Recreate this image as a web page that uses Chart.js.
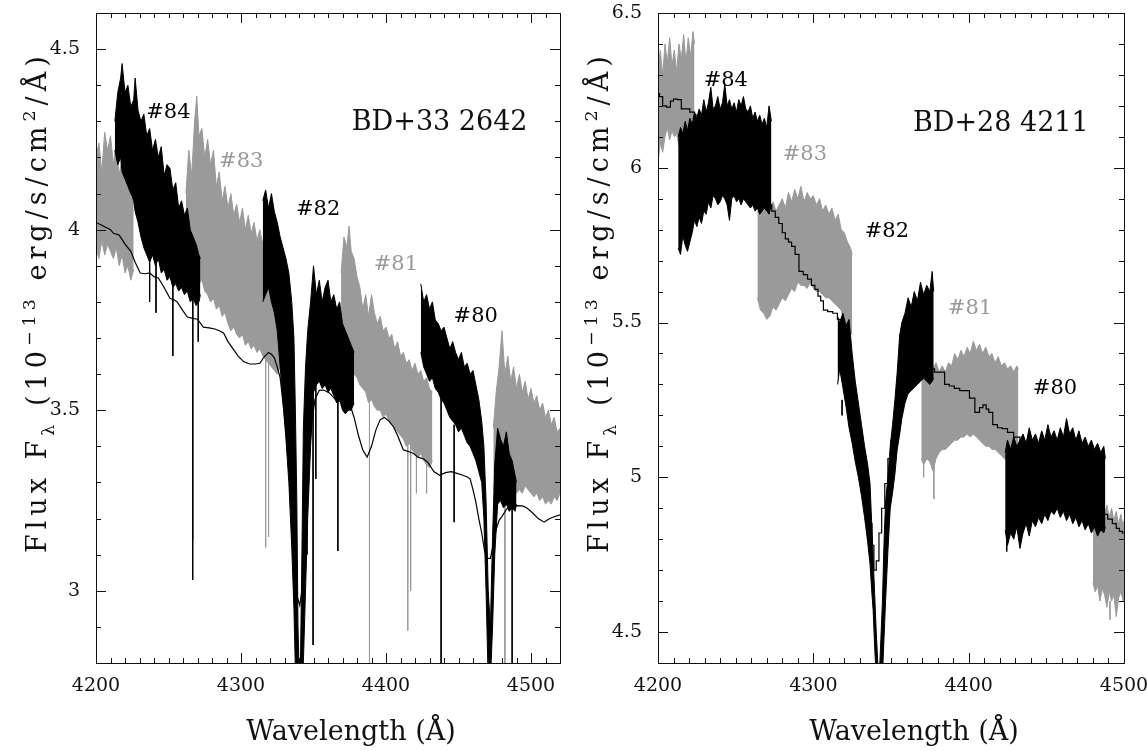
<!DOCTYPE html>
<html>
<head>
<meta charset="utf-8">
<script src="https://cdn.jsdelivr.net/npm/chart.js@4/dist/chart.umd.min.js"></script>
<style>
  html, body { margin: 0; padding: 0; background: #fff; width: 1147px; height: 751px; overflow: hidden; }
  canvas { position: absolute; top: 0; }
  #left { left: 0; }
  #right { left: 575px; }
</style>
</head>
<body>
<canvas id="left" width="575" height="751"></canvas>
<canvas id="right" width="590" height="751"></canvas>
<script>
document.addEventListener('DOMContentLoaded', function () {

	'use strict';

	// ---------- BD+33 2642 (left panel) ----------
	const leftXTicks = [4200, 4300, 4400, 4500];
	const leftYTicks = [3, 3.5, 4, 4.5];

	// model spectrum (thin black line)
	const leftModelLam = [4200,4205,4210,4212,4216,4220,4224,4227,4230.5,4234,4237,4240,4243,4247,4251,4254,4256,4260,4263,4266,4270,4274,4278,4282,4285,4288,4291,4295,4298,4302,4306,4310,4313,4316,4319,4321,4323,4325,4327,4329,4331,4333,4335,4336.5,4337.5,4339,4340.5,4342,4343.5,4345,4347,4349,4351,4354,4357,4361,4365,4370,4375,4378,4381,4384,4387,4390,4393,4396,4399,4402,4405,4408,4412,4416,4419,4422,4426,4429,4433,4437,4441,4445,4449,4453,4456,4458,4460,4462,4464,4466,4468,4470,4472,4474,4476,4478,4480,4483,4485,4490,4494,4497,4501,4505,4509,4511,4513,4516,4520];
	const leftModelFlux = [4.02,4.01,4.00,3.99,3.985,3.96,3.94,3.91,3.88,3.878,3.88,3.87,3.866,3.84,3.81,3.805,3.80,3.775,3.758,3.755,3.752,3.73,3.728,3.725,3.72,3.714,3.69,3.667,3.65,3.634,3.628,3.628,3.63,3.648,3.66,3.655,3.645,3.62,3.59,3.52,3.445,3.38,3.28,3.15,3.05,2.98,2.96,3.0,3.1,3.25,3.38,3.47,3.53,3.555,3.556,3.548,3.53,3.52,3.518,3.48,3.43,3.39,3.37,3.40,3.445,3.474,3.48,3.47,3.455,3.43,3.39,3.385,3.38,3.37,3.365,3.355,3.33,3.32,3.327,3.33,3.325,3.32,3.315,3.31,3.28,3.245,3.20,3.16,3.11,3.09,3.09,3.13,3.17,3.195,3.206,3.225,3.234,3.236,3.235,3.23,3.216,3.20,3.19,3.195,3.20,3.205,3.21];

	// observed exposures: upper / lower edge of the noise
	const l85Lam = [4200,4202,4204,4206,4208,4210,4212,4214,4216,4218,4220,4222,4224,4226];
	const l85Hi  = [4.20,4.24,4.16,4.27,4.22,4.26,4.18,4.24,4.15,4.20,4.12,4.17,4.08,4.10];
	const l85Lo  = [3.95,3.92,3.97,3.93,3.96,3.94,3.92,3.95,3.90,3.93,3.88,3.90,3.86,3.89];

	const l84Lam = [4213,4215,4217,4218,4220,4222,4224,4226,4227,4229,4231,4233,4235,4237,4239,4241,4243,4245,4247,4249,4251,4253,4255,4257,4259,4261,4263,4265,4267,4269,4271,4272];
	const l84Hi  = [4.30,4.38,4.42,4.46,4.38,4.40,4.34,4.36,4.42,4.33,4.30,4.32,4.26,4.28,4.22,4.25,4.20,4.23,4.15,4.18,4.17,4.11,4.13,4.06,4.08,4.04,4.06,4.00,3.98,3.96,3.93,3.92];
	const l84Lo  = [4.22,4.18,4.20,4.16,4.14,4.12,4.10,4.08,4.05,4.02,3.98,3.95,3.93,3.91,3.93,3.90,3.92,3.88,3.89,3.86,3.87,3.84,3.85,3.83,3.84,3.82,3.83,3.80,3.81,3.79,3.80,3.82];

	const l83Lam = [4262,4264,4266,4268,4269.5,4271,4273,4275,4277,4279,4281,4283,4285,4287,4289,4291,4293,4295,4297,4299,4301,4303,4305,4307,4309,4311,4313,4315,4317,4319,4321,4323,4325,4327];
	const l83Hi  = [4.10,4.22,4.15,4.30,4.37,4.26,4.28,4.20,4.25,4.18,4.22,4.12,4.16,4.08,4.12,4.06,4.10,4.04,4.07,4.02,4.06,4.00,4.04,3.99,4.02,3.97,4.00,3.96,3.99,3.94,3.96,3.92,3.90,3.86];
	const l83Lo  = [3.93,3.90,3.91,3.87,3.88,3.85,3.86,3.83,3.82,3.80,3.81,3.78,3.79,3.76,3.77,3.74,3.72,3.73,3.71,3.70,3.71,3.68,3.69,3.67,3.68,3.66,3.67,3.65,3.64,3.63,3.62,3.61,3.60,3.62];

	const l82Lam = [4315,4317,4319,4321,4323,4325,4327,4329,4331,4333,4335,4336.5,4337.5,4338.5,4339.3,4340.2,4341,4342,4343,4344.5,4346,4348,4350,4352,4354,4356,4358,4360,4362,4364,4366,4368,4370,4372,4374,4376,4378];
	const l82Hi  = [4.08,4.11,4.06,4.10,4.05,4.02,3.98,3.95,3.92,3.88,3.80,3.70,3.50,3.25,2.90,2.76,2.80,3.10,3.45,3.62,3.72,3.80,3.90,3.82,3.86,3.80,3.84,3.86,3.80,3.82,3.78,3.80,3.74,3.72,3.70,3.68,3.66];
	const l82Lo  = [3.80,3.82,3.84,3.80,3.77,3.72,3.62,3.52,3.42,3.30,3.12,2.95,2.78,2.75,2.75,2.72,2.72,2.75,2.80,3.00,3.20,3.40,3.55,3.57,3.58,3.56,3.57,3.55,3.56,3.54,3.52,3.53,3.50,3.49,3.50,3.50,3.52];

	const l81Lam = [4369,4371,4373,4374.5,4376,4378,4380,4382,4384,4386,4388,4390,4392,4394,4396,4398,4400,4402,4404,4406,4408,4410,4412,4414,4416,4418,4420,4422,4424,4426,4428,4430,4432];
	const l81Hi  = [3.88,3.98,3.95,4.01,3.94,3.92,3.87,3.84,3.78,3.82,3.76,3.82,3.77,3.74,3.76,3.72,3.73,3.70,3.71,3.67,3.69,3.65,3.66,3.63,3.64,3.61,3.63,3.60,3.61,3.58,3.59,3.56,3.55];
	const l81Lo  = [3.66,3.62,3.60,3.61,3.58,3.60,3.59,3.57,3.56,3.55,3.52,3.53,3.51,3.50,3.50,3.48,3.49,3.47,3.46,3.45,3.44,3.43,3.42,3.40,3.41,3.39,3.38,3.37,3.38,3.36,3.35,3.34,3.36];

	const l80Lam = [4424,4426,4428,4430,4432,4434,4436,4438,4440,4442,4444,4446,4448,4450,4452,4454,4456,4458,4460,4462,4464,4466,4467.5,4469,4470.5,4472,4473.5,4475,4477,4479,4481,4483,4485,4487,4489,4490];
	const l80Hi  = [3.85,3.80,3.82,3.78,3.80,3.75,3.74,3.72,3.73,3.70,3.67,3.69,3.66,3.64,3.66,3.62,3.63,3.60,3.61,3.57,3.53,3.47,3.40,3.25,3.00,2.90,3.15,3.35,3.45,3.42,3.40,3.44,3.38,3.36,3.32,3.30];
	const l80Lo  = [3.66,3.62,3.60,3.58,3.59,3.56,3.55,3.53,3.52,3.50,3.48,3.47,3.46,3.44,3.45,3.43,3.41,3.40,3.38,3.36,3.33,3.30,3.20,3.00,2.75,2.75,2.90,3.10,3.24,3.25,3.23,3.24,3.22,3.23,3.22,3.24];

	const l79Lam = [4474,4476,4478,4480,4482,4484,4486,4488,4490,4492,4494,4496,4498,4500,4502,4504,4506,4508,4510,4512,4514,4516,4518,4520];
	const l79Hi  = [3.45,3.55,3.62,3.72,3.60,3.65,3.58,3.62,3.56,3.60,3.55,3.58,3.53,3.56,3.52,3.54,3.50,3.52,3.48,3.50,3.46,3.48,3.44,3.45];
	const l79Lo  = [3.28,3.30,3.29,3.27,3.28,3.27,3.26,3.28,3.27,3.28,3.27,3.29,3.28,3.27,3.26,3.27,3.25,3.26,3.24,3.25,3.24,3.26,3.25,3.27];

	// narrow lines / spikes below the noise
	const leftBlackSpikeLam = [4237,4241.4,4253,4266.7,4270.5,4345.5,4349.7,4351.6,4366.8,4438,4447,4487];
	const leftBlackSpikeTop = [3.92,3.92,3.88,3.82,3.80,3.20,3.60,3.58,3.53,3.55,3.46,3.24];
	const leftBlackSpikeBot = [3.80,3.77,3.65,3.03,3.69,3.10,2.85,3.31,3.11,2.78,3.19,2.78];
	const leftGraySpikeLam = [4266.8,4317,4319,4388.6,4415,4417,4421,4428,4482];
	const leftGraySpikeTop = [3.90,3.64,3.63,3.52,3.41,3.40,3.38,3.36,3.28];
	const leftGraySpikeBot = [3.14,3.12,3.15,2.78,2.89,3.00,3.27,3.27,2.78];

	const leftTagText = ['#84', '#83', '#82', '#81', '#80'];
	const leftTagLam  = [4234.6, 4284.9, 4337.9, 4391.5, 4446.6];
	const leftTagFlux = [4.308, 4.173, 4.040, 3.888, 3.744];

	// ---------- BD+28 4211 (right panel) ----------
	const rightXTicks = [4200, 4300, 4400, 4500];
	const rightYTicks = [4.5, 5, 5.5, 6, 6.5];

	const rightModelLam = [4200,4202,4204,4207,4209,4211,4214,4216,4219,4222,4225,4228,4232,4236,4240,4244,4248,4252,4256,4260,4264,4267,4270,4272,4274.5,4276.5,4279,4281,4283,4285,4287,4289.5,4292,4295,4297.5,4300,4302,4304,4305.5,4307.5,4311,4314,4317,4319,4321,4323,4325,4327,4329,4331,4333,4335,4337,4338.5,4339.5,4341.5,4343,4345,4347,4349,4351,4353,4355,4357,4360,4363,4366,4370,4373,4376,4380,4383,4386,4389,4392.5,4396,4399,4402,4406,4408,4410.5,4412,4414,4417,4420,4423,4427,4431,4435,4440,4444,4448,4452,4456,4460,4464,4468,4472,4476,4480,4482.5,4485,4488,4491,4494,4496,4498,4500];
	const rightModelFlux = [6.24,6.23,6.20,6.196,6.215,6.222,6.22,6.19,6.19,6.18,6.17,6.15,6.13,6.11,6.09,6.07,6.05,6.02,6.00,5.97,5.94,5.92,5.90,5.88,5.86,5.84,5.82,5.79,5.77,5.76,5.746,5.72,5.665,5.655,5.64,5.62,5.607,5.585,5.57,5.54,5.535,5.53,5.51,5.45,5.40,5.33,5.27,5.20,5.14,5.07,5.00,4.93,4.85,4.78,4.70,4.73,4.82,4.90,4.98,5.06,5.12,5.18,5.22,5.26,5.29,5.31,5.33,5.34,5.365,5.35,5.34,5.34,5.30,5.295,5.287,5.28,5.28,5.256,5.21,5.225,5.234,5.22,5.21,5.17,5.16,5.157,5.145,5.13,5.115,5.11,5.11,5.09,5.07,5.05,5.02,4.99,4.96,4.94,4.92,4.90,4.895,4.885,4.88,4.865,4.85,4.835,4.825,4.82];

	const r85Lam = [4200,4201.5,4203,4204.5,4206,4207.5,4209,4210.5,4212,4213.5,4215,4216.5,4218,4219.5,4221,4222.5,4223.5];
	const r85Hi  = [6.32,6.38,6.30,6.40,6.34,6.42,6.33,6.38,6.31,6.40,6.35,6.43,6.34,6.42,6.36,6.44,6.40];
	const r85Lo  = [6.02,6.08,6.05,6.10,6.13,6.09,6.12,6.10,6.11,6.07,6.05,6.06,6.08,6.09,6.12,6.13,6.16];

	const r84Lam = [4213,4214.5,4216,4217.5,4219,4220.5,4222,4223.5,4225,4226.5,4228,4229.5,4231,4232.5,4234,4235.5,4237,4238.5,4240,4241.5,4243,4244.5,4246,4247.5,4249,4250.5,4252,4253.5,4255,4256.5,4258,4259.5,4261,4262.5,4264,4265.5,4267,4268.5,4270,4271.5,4273];
	const r84Hi  = [6.10,6.13,6.11,6.15,6.12,6.16,6.14,6.18,6.16,6.19,6.17,6.22,6.18,6.21,6.26,6.19,6.20,6.23,6.19,6.21,6.27,6.20,6.22,6.19,6.21,6.18,6.22,6.20,6.23,6.19,6.18,6.20,6.16,6.18,6.15,6.17,6.14,6.16,6.13,6.20,6.15];
	const r84Lo  = [5.74,5.72,5.78,5.75,5.73,5.76,5.79,5.83,5.81,5.84,5.82,5.86,5.85,5.89,5.87,5.91,5.90,5.88,5.89,5.91,5.90,5.88,5.83,5.90,5.91,5.89,5.90,5.88,5.90,5.89,5.88,5.87,5.88,5.86,5.87,5.85,5.86,5.87,5.86,5.85,5.88];

	const r83Lam = [4264,4266,4268,4270,4272,4274,4276,4278,4280,4282,4284,4286,4288,4290,4292,4294,4296,4298,4300,4302,4304,4306,4308,4310,4312,4314,4316,4318,4320,4322,4324,4325];
	const r83Hi  = [5.90,5.96,5.88,5.92,5.87,5.89,5.86,5.88,5.90,5.87,5.92,5.89,5.93,5.90,5.94,5.89,5.92,5.90,5.91,5.88,5.90,5.86,5.88,5.85,5.87,5.83,5.85,5.80,5.79,5.76,5.74,5.72];
	const r83Lo  = [5.58,5.54,5.53,5.51,5.52,5.55,5.54,5.56,5.58,5.57,5.59,5.61,5.60,5.63,5.62,5.62,5.61,5.63,5.61,5.60,5.60,5.59,5.58,5.58,5.57,5.56,5.55,5.54,5.50,5.48,5.47,5.46];

	const r82Lam = [4315.6,4317,4319,4321,4323,4325,4327,4329,4331,4333,4335,4336.5,4337.5,4338.5,4339.5,4340.5,4341.5,4342.5,4343.5,4344.5,4345.5,4346.5,4348,4349.5,4351,4352.5,4354,4355.6,4357,4359,4361,4363,4365,4367,4369,4371,4373,4375,4376.5,4377.5];
	const r82Hi  = [5.52,5.50,5.53,5.49,5.51,5.40,5.31,5.24,5.17,5.10,5.04,4.98,4.86,4.74,4.62,4.50,4.40,4.36,4.48,4.60,4.79,4.92,5.00,5.10,5.17,5.25,5.34,5.46,5.50,5.53,5.58,5.55,5.60,5.57,5.63,5.59,5.62,5.60,5.665,5.60];
	const r82Lo  = [5.30,5.35,5.29,5.23,5.16,5.11,5.05,5.00,4.94,4.87,4.79,4.72,4.64,4.57,4.45,4.35,4.33,4.30,4.32,4.36,4.48,4.60,4.76,4.90,4.95,5.01,5.09,5.14,5.19,5.24,5.27,5.28,5.29,5.30,5.31,5.32,5.31,5.30,5.31,5.32];

	const r81Lam = [4369.5,4371,4373,4375,4377,4379,4381,4383,4385,4387,4389,4391,4393,4395,4397,4399,4401,4403,4405,4407,4409,4411,4413,4415,4417,4419,4421,4423,4425,4427,4429,4431,4432];
	const r81Hi  = [5.38,5.42,5.36,5.38,5.35,5.37,5.34,5.36,5.34,5.37,5.36,5.40,5.38,5.41,5.39,5.42,5.40,5.44,5.41,5.43,5.40,5.42,5.39,5.40,5.37,5.39,5.36,5.37,5.35,5.36,5.34,5.36,5.35];
	const r81Lo  = [5.06,5.04,5.06,5.05,5.02,5.06,5.08,5.09,5.09,5.10,5.11,5.12,5.12,5.13,5.13,5.14,5.13,5.14,5.13,5.12,5.11,5.10,5.10,5.09,5.09,5.08,5.07,5.06,5.05,5.05,5.04,5.03,5.04];

	const r80Lam = [4423.5,4425,4427,4429,4431,4433,4435,4437,4439,4441,4443,4445,4447,4449,4451,4453,4455,4457,4459,4461,4463,4465,4467,4469,4471,4473,4475,4477,4479,4481,4483,4485,4487,4488];
	const r80Hi  = [5.08,5.12,5.09,5.13,5.10,5.12,5.14,5.11,5.16,5.12,5.14,5.11,5.15,5.12,5.17,5.13,5.15,5.12,5.16,5.13,5.19,5.14,5.16,5.12,5.15,5.11,5.13,5.10,5.12,5.09,5.11,5.08,5.10,5.06];
	const r80Lo  = [4.83,4.78,4.82,4.80,4.84,4.77,4.82,4.85,4.81,4.86,4.84,4.87,4.85,4.88,4.86,4.89,4.88,4.90,4.87,4.89,4.86,4.88,4.85,4.87,4.84,4.86,4.83,4.85,4.82,4.84,4.81,4.83,4.82,4.84];

	const r79Lam = [4480,4481.5,4483,4484.5,4486,4487.5,4489,4490.5,4492,4493.5,4495,4496.5,4498,4499.5,4500];
	const r79Hi  = [4.95,4.92,4.96,4.90,4.93,4.88,4.91,4.87,4.90,4.86,4.89,4.85,4.88,4.84,4.86];
	const r79Lo  = [4.66,4.63,4.65,4.60,4.64,4.62,4.58,4.63,4.60,4.62,4.55,4.61,4.63,4.60,4.62];

	const rightBlackSpikeLam = [4318.5, 4424.5];
	const rightBlackSpikeTop = [5.25, 4.83];
	const rightBlackSpikeBot = [5.20, 4.76];
	const rightGraySpikeLam = [4371, 4377.6, 4491];
	const rightGraySpikeTop = [5.06, 5.04, 4.60];
	const rightGraySpikeBot = [5.00, 4.93, 4.54];

	const rightTagText = ['#84', '#83', '#82', '#81', '#80'];
	const rightTagLam  = [4229.4, 4280.3, 4333.1, 4386.6, 4441.3];
	const rightTagFlux = [6.264, 6.025, 5.776, 5.527, 5.268];

	// ---------- styles ----------
	const BLACK = '#000000';
	const GRAY = '#9a9a9a';
	const FONT = '"DejaVu Serif", "Liberation Serif", serif';

	function pts(lam, val) {
		const n = Math.min(lam.length, val.length);
		const out = [];
		for (let i = 0; i < n; i++) out.push({x: lam[i], y: val[i]});
		return out;
	}

	// a noisy exposure: lower edge + upper edge filled between them
	function band(lam, hi, lo, color, order) {
		return [
			{data: pts(lam, lo), borderColor: color, borderWidth: 1, pointRadius: 0, fill: false, order: order},
			{data: pts(lam, hi), borderColor: color, borderWidth: 1, pointRadius: 0, fill: '-1', backgroundColor: color, order: order}
		];
	}

	function spikes(lam, top, bot, color, order) {
		const d = [];
		for (let i = 0; i < lam.length; i++) {
			d.push({x: lam[i], y: top[i]}, {x: lam[i], y: bot[i]}, {x: lam[i], y: null});
		}
		return {data: d, borderColor: color, borderWidth: 1, pointRadius: 0, fill: false, spanGaps: false, order: order};
	}

	function richText(ctx, parts, size, spacing) {
		let x = 0;
		parts.forEach(function (p) {
			const s = size * (p.scale || 1);
			ctx.font = s + 'px ' + FONT;
			ctx.letterSpacing = '0px';
			const w = ctx.measureText(p.t).width;
			ctx.letterSpacing = spacing + 'px';
			ctx.fillText(p.t, x, (p.dy || 0) * size);
			x += w + spacing * [...p.t].length;
		});
		ctx.letterSpacing = '0px';
	}

	const yTitleParts = [
		{t: 'Flux F'},
		{t: 'λ', scale: 0.65, dy: 0.28},
		{t: ' (10'},
		{t: '\u221213', scale: 0.65, dy: -0.42},
		{t: ' erg/s/cm'},
		{t: '2', scale: 0.65, dy: -0.42},
		{t: '/Å)'}
	];

	// frame, inward ticks, titles and labels
	const deco = {
		id: 'deco',
		afterDraw(chart, args, o) {
			const ctx = chart.ctx;
			const a = chart.chartArea;
			const x = chart.scales.x, y = chart.scales.y;
			ctx.save();
			ctx.strokeStyle = '#111';
			ctx.lineWidth = 1;
			ctx.strokeRect(Math.round(a.left) + 0.5, Math.round(a.top) + 0.5, Math.round(a.right - a.left), Math.round(a.bottom - a.top));
			ctx.beginPath();
			for (let k = Math.ceil(x.min / 10); k * 10 <= x.max; k++) {
				const px = Math.round(x.getPixelForValue(k * 10)) + 0.5;
				const len = (k % 10 === 0) ? 10 : 5;
				ctx.moveTo(px, a.bottom); ctx.lineTo(px, a.bottom - len);
				ctx.moveTo(px, a.top); ctx.lineTo(px, a.top + len);
			}
			for (let k = Math.ceil(y.min * 10 - 1e-6); k <= Math.floor(y.max * 10 + 1e-6); k++) {
				const py = Math.round(y.getPixelForValue(k / 10)) + 0.5;
				const len = (k % 5 === 0) ? 10 : 5;
				ctx.moveTo(a.left, py); ctx.lineTo(a.left + len, py);
				ctx.moveTo(a.right, py); ctx.lineTo(a.right - len, py);
			}
			ctx.stroke();

			ctx.fillStyle = '#111';
			ctx.textBaseline = 'alphabetic';
			// x title
			ctx.font = '27px ' + FONT;
			ctx.textAlign = 'center';
			ctx.fillText('Wavelength (Å)', (a.left + a.right) / 2 + 23, 740);
			// y title
			ctx.save();
			ctx.translate(a.left - 50, a.bottom - 110);
			ctx.rotate(-Math.PI / 2);
			ctx.textAlign = 'left';
			richText(ctx, yTitleParts, 27, 5);
			ctx.restore();

			// star name
			ctx.textAlign = 'left';
			ctx.font = '27px ' + FONT;
			ctx.fillText(o.star, x.getPixelForValue(o.starLam), y.getPixelForValue(o.starFlux));
			// exposure tags
			ctx.font = '21px ' + FONT;
			for (let i = 0; i < o.tags.length; i++) {
				ctx.fillStyle = (i % 2 === 0) ? BLACK : GRAY;
				ctx.fillText(o.tags[i], x.getPixelForValue(o.tagLam[i]), y.getPixelForValue(o.tagFlux[i]));
			}
			ctx.restore();
		}
	};

	function panel(id, p) {
		const ds = [];
		ds.push({data: pts(p.modelLam, p.modelFlux), borderColor: BLACK, borderWidth: 1.2, pointRadius: 0, fill: false, stepped: p.stepped, order: 1});
		p.black.forEach(function (b) { ds.push.apply(ds, band(b[0], b[1], b[2], BLACK, 2)); });
		ds.push(spikes(p.blackSpikes[0], p.blackSpikes[1], p.blackSpikes[2], BLACK, 2));
		ds.push(spikes(p.graySpikes[0], p.graySpikes[1], p.graySpikes[2], GRAY, 3));
		p.gray.forEach(function (b) { ds.push.apply(ds, band(b[0], b[1], b[2], GRAY, 3)); });

		return new Chart(document.getElementById(id), {
			type: 'line',
			data: {datasets: ds},
			options: {
				responsive: false,
				animation: false,
				devicePixelRatio: 1,
				layout: {padding: {left: 0, top: 13, right: p.padRight, bottom: 0}},
				plugins: {
					legend: {display: false},
					tooltip: {enabled: false},
					deco: {star: p.star, starLam: p.starLam, starFlux: p.starFlux, tags: p.tags, tagLam: p.tagLam, tagFlux: p.tagFlux}
				},
				elements: {line: {tension: 0}},
				scales: {
					x: {
						type: 'linear', min: p.xMin, max: p.xMax,
						grid: {display: false, drawTicks: false},
						border: {display: false},
						afterBuildTicks: function (s) { s.ticks = p.xTicks.map(function (v) { return {value: v}; }); },
						afterFit: function (s) { s.height = 88; s.paddingLeft = 0; s.paddingRight = 0; },
						ticks: {autoSkip: false, maxRotation: 0, minRotation: 0, padding: 12, color: '#111', font: {family: FONT, size: 19}, callback: function (v) { return String(v); }}
					},
					y: {
						type: 'linear', min: p.yMin, max: p.yMax,
						grid: {display: false, drawTicks: false},
						border: {display: false},
						afterBuildTicks: function (s) { s.ticks = p.yTicks.map(function (v) { return {value: v}; }); },
						afterFit: function (s) { s.width = p.yWidth; s.paddingTop = 0; s.paddingBottom = 0; },
						ticks: {padding: 16, color: '#111', font: {family: FONT, size: 19}, callback: function (v) { return String(v); }}
					}
				}
			},
			plugins: [deco]
		});
	}

	panel('left', {
		xMin: 4200, xMax: 4520, yMin: 2.8, yMax: 4.6, xTicks: leftXTicks, yTicks: leftYTicks,
		yWidth: 96, padRight: 15, stepped: false,
		modelLam: leftModelLam, modelFlux: leftModelFlux,
		black: [[l84Lam, l84Hi, l84Lo], [l82Lam, l82Hi, l82Lo], [l80Lam, l80Hi, l80Lo]],
		gray: [[l85Lam, l85Hi, l85Lo], [l83Lam, l83Hi, l83Lo], [l81Lam, l81Hi, l81Lo], [l79Lam, l79Hi, l79Lo]],
		blackSpikes: [leftBlackSpikeLam, leftBlackSpikeTop, leftBlackSpikeBot],
		graySpikes: [leftGraySpikeLam, leftGraySpikeTop, leftGraySpikeBot],
		star: 'BD+33 2642', starLam: 4376.4, starFlux: 4.275,
		tags: leftTagText, tagLam: leftTagLam, tagFlux: leftTagFlux
	});

	panel('right', {
		xMin: 4200, xMax: 4500, yMin: 4.4, yMax: 6.5, xTicks: rightXTicks, yTicks: rightYTicks,
		yWidth: 83, padRight: 41, stepped: 'middle',
		modelLam: rightModelLam, modelFlux: rightModelFlux,
		black: [[r84Lam, r84Hi, r84Lo], [r82Lam, r82Hi, r82Lo], [r80Lam, r80Hi, r80Lo]],
		gray: [[r85Lam, r85Hi, r85Lo], [r83Lam, r83Hi, r83Lo], [r81Lam, r81Hi, r81Lo], [r79Lam, r79Hi, r79Lo]],
		blackSpikes: [rightBlackSpikeLam, rightBlackSpikeTop, rightBlackSpikeBot],
		graySpikes: [rightGraySpikeLam, rightGraySpikeTop, rightGraySpikeBot],
		star: 'BD+28 4211', starLam: 4364.1, starFlux: 6.119,
		tags: rightTagText, tagLam: rightTagLam, tagFlux: rightTagFlux
	});

});
</script>
</body>
</html>
